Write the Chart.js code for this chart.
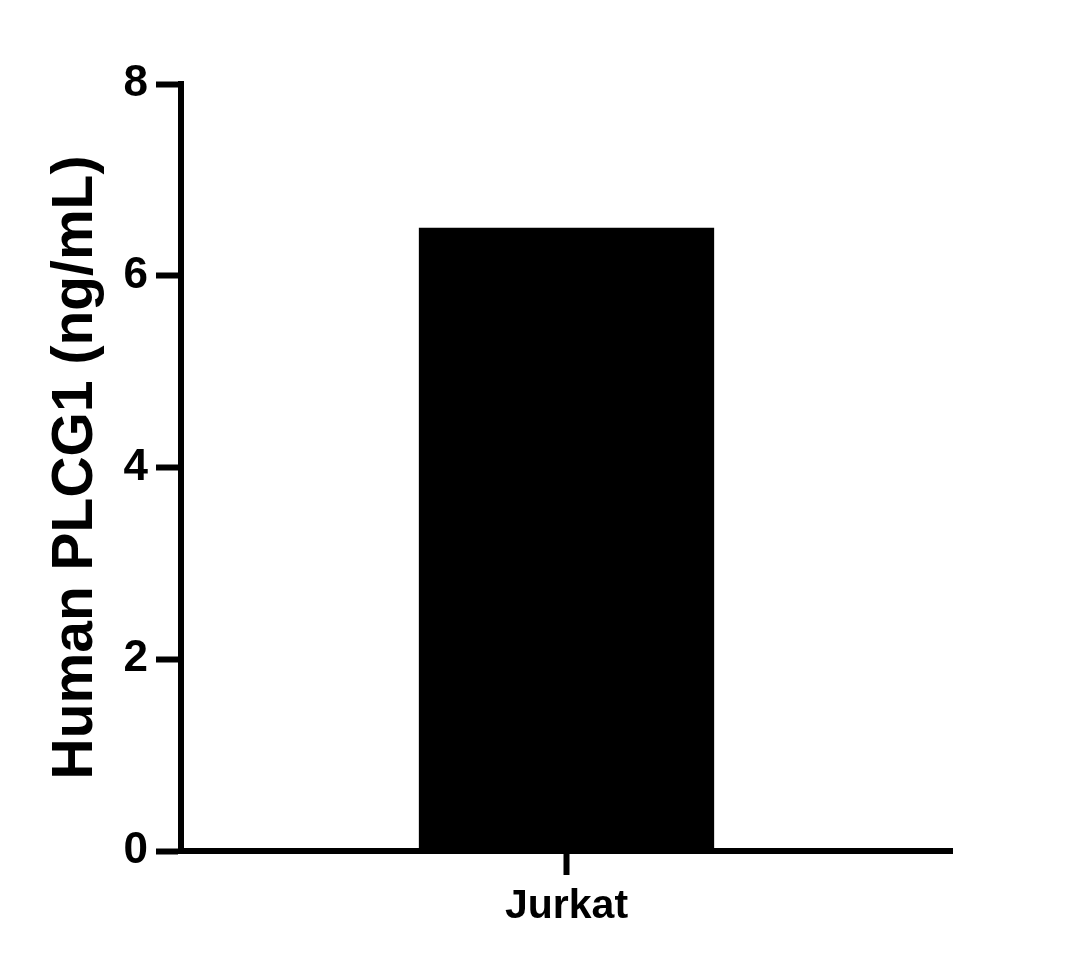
<!DOCTYPE html>
<html>
<head>
<meta charset="utf-8">
<script src="https://cdn.jsdelivr.net/npm/chart.js@4"></script>
<style>
    body { margin: 0; background: #fff; }
    #caja { width: 1087px; height: 967px; }
</style>
</head>
<body>
<div id="caja"><canvas id="grafico" width="1087" height="967"></canvas></div>
<script>
const categorias = ['Jurkat'];
const valores = [6.5];
const tituloY = 'Human PLCG1 (ng/mL)';
const yMin = 0;
const yMax = 8;
const yPaso = 2;

const fuente = '"Liberation Sans", Arial, sans-serif';
const graficoCanvas = document.getElementById('grafico');

const chart = new Chart(graficoCanvas, {
    type: 'bar',
    data: {
        labels: categorias,
        datasets: [{
            data: valores,
            backgroundColor: '#000',
            borderWidth: 0,
            barPercentage: 0.383,
            categoryPercentage: 1
        }]
    },
    options: {
        responsive: false,
        animation: false,
        devicePixelRatio: 1,
        layout: { padding: { top: 84, right: 135, left: 0, bottom: 0 } },
        plugins: {
            legend: { display: false },
            tooltip: { enabled: false }
        },
        scales: {
            x: {
                offset: true,
                grid: {
                    offset: false,
                    drawOnChartArea: false,
                    drawTicks: true,
                    tickLength: 24,
                    tickWidth: 6,
                    tickColor: '#000'
                },
                border: { display: true, width: 6, color: '#000' },
                ticks: {
                    color: '#000',
                    padding: 7,
                    font: { family: fuente, size: 41, weight: 'bold' }
                },
                afterFit: (escala) => { escala.height = 116; }
            },
            y: {
                min: yMin,
                max: yMax,
                grid: {
                    drawOnChartArea: false,
                    drawTicks: true,
                    tickLength: 25,
                    tickWidth: 6,
                    tickColor: '#000'
                },
                border: { display: true, width: 6, color: '#000' },
                ticks: {
                    stepSize: yPaso,
                    color: '#000',
                    padding: 8,
                    font: { family: fuente, size: 44, weight: 'bold' }
                },
                title: {
                    display: true,
                    text: tituloY,
                    color: '#000',
                    padding: { top: 42, bottom: 0 },
                    font: { family: fuente, size: 57, weight: 'bold' }
                },
                afterFit: (escala) => { escala.width = 181; }
            }
        }
    }
});
</script>
</body>
</html>
